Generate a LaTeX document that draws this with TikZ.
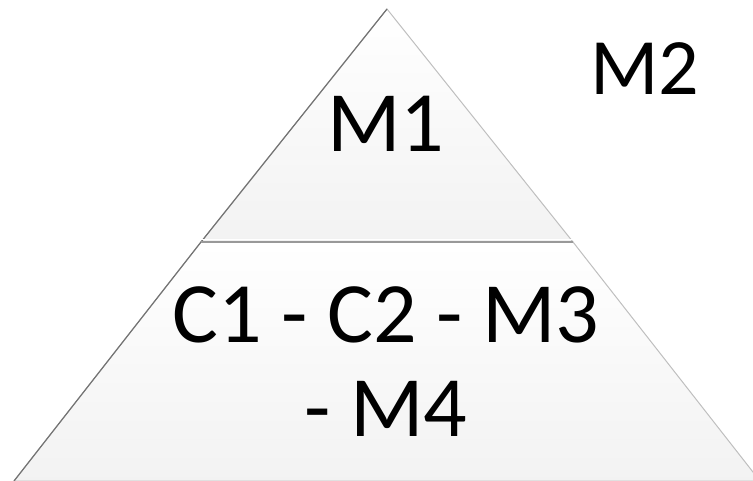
\documentclass[tikz,border=0pt]{standalone}
\usepackage{fontspec}
\setmainfont{Carlito}
\tikzset{
  piece/.style={top color=white, bottom color=black!5, draw=black!25, line width=1pt, line join=miter},
  edgeline/.style={draw=black!55, line width=1.2pt},
  lbl/.style={font=\fontsize{86}{94}\selectfont, text=black, inner sep=0pt, align=center}
}
\begin{document}
\begin{tikzpicture}[x=1pt,y=-1pt]
\useasboundingbox (0,0) rectangle (753,481);
\begin{scope}
\clip (0,0) rectangle (753,481);
\coordinate (apex) at (387,9);
\coordinate (ml) at (201,242);
\coordinate (mr) at (573,242);
\coordinate (bl) at (14,481);
\coordinate (br) at (760,481);
\path[piece] (apex) -- (mr) -- (ml) -- cycle;
\path[piece] (ml) -- (mr) -- (br) -- (bl) -- cycle;
\draw[edgeline] (bl) -- (ml) -- (apex);
\draw[black!40, line width=1.5pt] (ml) -- (mr);
\draw[white, line width=1.5pt] ([yshift=2.5pt]ml) -- ([yshift=2.5pt]mr);
\end{scope}
\node[lbl] (m1) at (386,124) {M1};
\node[lbl, font=\fontsize{80}{88}\selectfont] (m2) at (645,69) {M2};
\node[lbl] (c) at (386,362) {C1 - C2 - M3\\- M4};
\end{tikzpicture}
\end{document}
